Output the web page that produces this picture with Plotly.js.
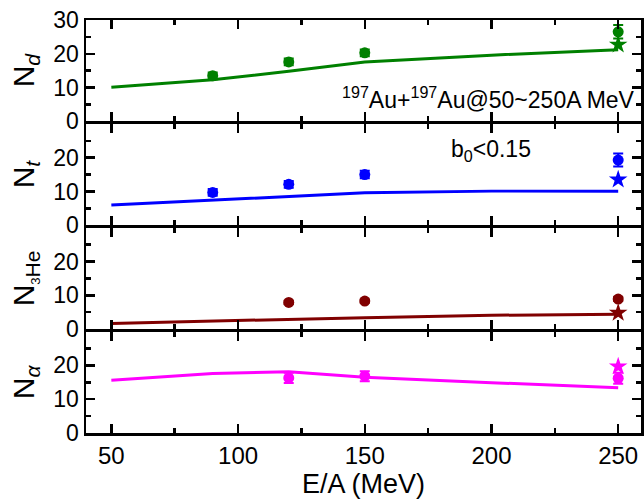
<!DOCTYPE html>
<html><head><meta charset="utf-8">
<script src="https://cdn.plot.ly/plotly-3.0.1.min.js"></script>
<style>body{margin:0;background:#fff}#chart{width:644px;height:500px}</style>
</head><body><div id="chart"></div>
<script>
// Model curves
const eModel = [50, 90, 120, 150, 200, 250];
const dModel = [10.1, 12.3, 14.8, 17.6, 19.6, 21.2];
const tModel = [6.0, 7.4, 8.6, 9.6, 10.1, 10.1];
const heModel = [1.7, 2.4, 3.0, 3.4, 4.1, 4.4];
const aModel = [15.6, 17.6, 18.1, 16.5, 14.9, 13.4];

// Experimental data (circles)
const eExpD = [90, 120, 150, 250];
const dExp = [13.5, 17.6, 20.3, 26.5];
const dErr = [1.0, 1.0, 1.0, 2.0];
const eExpT = [90, 120, 150, 250];
const tExp = [9.7, 12.1, 15.0, 19.3];
const tErr = [1.0, 1.0, 1.1, 1.9];
const eExpHe = [120, 150, 250];
const heExp = [7.9, 8.3, 8.9];
const heErr = [0.5, 0.5, 0.6];
const eExpA = [120, 150, 250];
const aExp = [16.3, 16.8, 16.2];
const aErr = [1.5, 1.5, 1.6];

// Star data points
const eStar = [250];
const dStar = [22.7];
const tStar = [13.5];
const heStar = [4.8];
const aStar = [19.7];

// Axis tick labels
const xTicks = [50, 100, 150, 200, 250];
const yTicksTop = [0, 10, 20, 30];
const yTicks = [0, 10, 20];

const colors = ['#008000', '#0000ff', '#800000', '#ff00ff'];
const FONT = 'Arial, "Liberation Sans", sans-serif';

const panels = [
  {model: dModel, ex: eExpD, exp: dExp, err: dErr, star: dStar},
  {model: tModel, ex: eExpT, exp: tExp, err: tErr, star: tStar},
  {model: heModel, ex: eExpHe, exp: heExp, err: heErr, star: heStar},
  {model: aModel, ex: eExpA, exp: aExp, err: aErr, star: aStar}
];

const traces = [];
panels.forEach((p, i) => {
  const xa = i === 0 ? 'x' : 'x' + (i + 1);
  const ya = i === 0 ? 'y' : 'y' + (i + 1);
  traces.push({x: eModel, y: p.model, xaxis: xa, yaxis: ya, mode: 'lines',
    line: {color: colors[i], width: 3}, showlegend: false, hoverinfo: 'skip'});
  traces.push({x: p.ex, y: p.exp, xaxis: xa, yaxis: ya, mode: 'markers',
    marker: {symbol: 'circle', size: 11, color: colors[i]},
    error_y: {type: 'data', array: p.err, visible: true, color: colors[i], thickness: 2, width: 5},
    showlegend: false});
  traces.push({x: eStar, y: p.star, xaxis: xa, yaxis: ya, mode: 'markers',
    marker: {symbol: 'star', size: 14, color: colors[i]}, showlegend: false});
});

const titles = [
  'N<sub><i>d</i></sub>',
  'N<sub><i>t</i></sub>',
  'N<sub><span style="font-size:13px">3</span>He</sub>',
  'N<sub><i>α</i></sub>'
];

const PLOT_H = 500 - 20 - 67;
const LW = 2.5;
const gap = LW / PLOT_H;
const panelH = (1 - 3 * gap) / 4;

const layout = {
  width: 644, height: 500,
  margin: {l: 86, r: 3, t: 20, b: 67},
  paper_bgcolor: '#fff', plot_bgcolor: 'rgba(0,0,0,0)',
  font: {family: FONT, color: '#000', size: 22},
  showlegend: false,
  annotations: [
    {xref: 'paper', yref: 'paper', x: 0.993, y: 0.812, xanchor: 'right', yanchor: 'middle',
     text: '<sup>197</sup>Au+<sup>197</sup>Au@50~250A MeV', showarrow: false,
     font: {family: FONT, size: 23, color: '#000'}},
    {xref: 'paper', yref: 'paper', x: 0.73, y: 0.683, xanchor: 'center', yanchor: 'middle',
     text: 'b<sub>0</sub>&lt;0.15', showarrow: false,
     font: {family: FONT, size: 23, color: '#000'}}
  ]
};

for (let i = 0; i < 4; i++) {
  const suf = i === 0 ? '' : String(i + 1);
  const top = 1 - i * (panelH + gap);
  const bot = top - panelH;
  const bottomPanel = i === 3;
  const xa = {
    anchor: 'y' + suf, domain: [0, 1], range: [40, 259],
    tickvals: xTicks, ticktext: xTicks.map(String),
    showticklabels: bottomPanel,
    ticks: 'inside', ticklen: 9, tickwidth: 2.5, tickcolor: '#000',
    minor: {tickvals: [75, 125, 175, 225], ticks: 'inside', ticklen: 5, tickwidth: 2.5, tickcolor: '#000'},
    showline: true, linewidth: LW, linecolor: '#000', mirror: 'ticks',
    showgrid: false, zeroline: false,
    tickfont: {family: FONT, size: 24}
  };
  if (i > 0) xa.matches = 'x';
  if (bottomPanel) xa.title = {text: 'E/A (MeV)', font: {family: FONT, size: 27}, standoff: 6};
  layout['xaxis' + suf] = xa;
  layout['yaxis' + suf] = {
    anchor: 'x' + suf, domain: [bot, top], range: [0, 30],
    tickvals: i === 0 ? yTicksTop : yTicks,
    ticktext: (i === 0 ? yTicksTop : yTicks).map(String),
    ticks: 'inside', ticklen: 9, tickwidth: 2.5, tickcolor: '#000',
    minor: {tickvals: [5, 15, 25], ticks: 'inside', ticklen: 5, tickwidth: 2.5, tickcolor: '#000'},
    showline: true, linewidth: LW, linecolor: '#000', mirror: 'ticks',
    showgrid: false, zeroline: false,
    tickfont: {family: FONT, size: 23},
    title: {text: titles[i], font: {family: FONT, size: 30}, standoff: 10}
  };
}

Plotly.newPlot('chart', traces, layout, {displayModeBar: false, staticPlot: true});
</script>
</body></html>
